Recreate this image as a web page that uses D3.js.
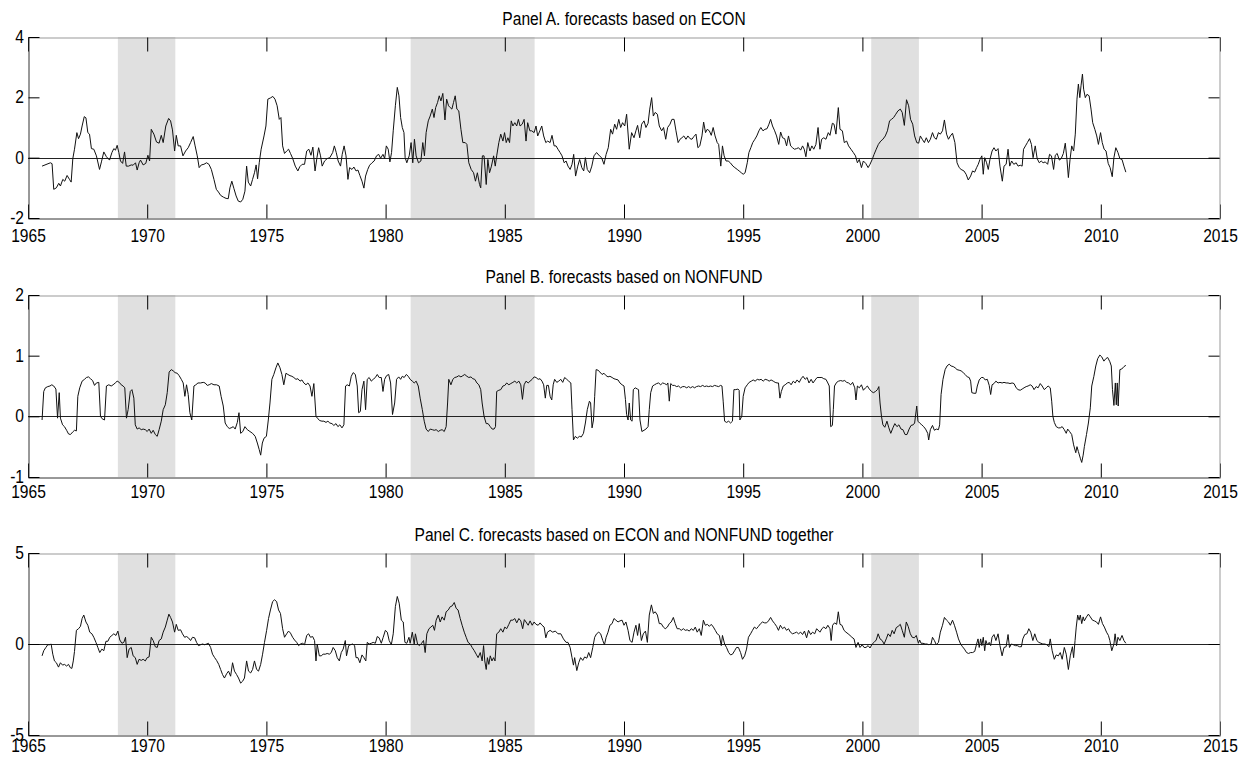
<!DOCTYPE html>
<html>
<head>
<meta charset="utf-8">
<script src="https://cdnjs.cloudflare.com/ajax/libs/d3/7.8.5/d3.min.js"></script>
<style>
body { margin: 0; background: #fff; }
text { font-family: "Liberation Sans", Arial, Helvetica, sans-serif; }
</style>
</head>
<body>
<script>
//shaded periods (start year, end year)
var bands = [[1968.77, 1971.18], [1981.05, 1986.25], [2000.37, 2002.37]];

//x axis ticks
var xTicks = [1965, 1970, 1975, 1980, 1985, 1990, 1995, 2000, 2005, 2010, 2015];

//panel titles and y ticks
var titles = ["Panel A. forecasts based on ECON",
              "Panel B. forecasts based on NONFUND",
              "Panel C. forecasts based on ECON and NONFUND together"];
var yTicksA = [-2, 0, 2, 4];
var yTicksB = [-1, 0, 1, 2];
var yTicksC = [-5, 0, 5];

//Panel A series: [year, forecast]
var econ = [
[1965.59,-0.28],[1965.94,-0.17],[1966.01,-0.2],[1966.08,-1.05],[1966.19,-1.0],[1966.29,-0.85],[1966.36,-0.94],[1966.46,-0.72],
[1966.54,-0.78],[1966.64,-0.59],[1966.74,-0.72],[1966.81,-0.81],[1966.88,-0.03],[1966.95,0.28],[1967.05,0.83],[1967.12,0.63],
[1967.2,0.78],[1967.27,1.05],[1967.36,1.36],[1967.43,1.32],[1967.51,0.83],[1967.58,0.78],[1967.66,0.3],[1967.76,0.28],
[1967.87,0.06],[1968.0,-0.39],[1968.08,-0.14],[1968.18,0.19],[1968.29,0.03],[1968.42,-0.08],[1968.52,0.17],[1968.6,0.3],
[1968.67,0.25],[1968.74,0.41],[1968.81,0.17],[1968.88,-0.11],[1968.97,-0.19],[1969.05,0.19],[1969.12,-0.28],[1969.22,-0.28],
[1969.33,-0.24],[1969.41,-0.25],[1969.51,-0.17],[1969.58,-0.41],[1969.66,-0.17],[1969.72,-0.08],[1969.83,-0.24],[1969.94,-0.19],
[1970.03,0.08],[1970.1,-0.11],[1970.17,0.94],[1970.28,0.78],[1970.39,0.52],[1970.5,0.48],[1970.59,0.74],[1970.67,0.5],
[1970.78,1.05],[1970.9,1.3],[1970.98,1.22],[1971.06,0.92],[1971.15,0.22],[1971.22,0.74],[1971.3,0.39],[1971.4,0.39],
[1971.5,0.06],[1971.61,0.22],[1971.72,0.33],[1971.82,0.5],[1971.93,0.7],[1972.01,0.39],[1972.1,0.06],[1972.18,-0.33],
[1972.27,-0.24],[1972.38,-0.22],[1972.49,-0.17],[1972.59,-0.22],[1972.69,-0.39],[1972.8,-0.72],[1972.9,-1.05],[1972.99,-1.14],
[1973.08,-1.25],[1973.2,-1.31],[1973.31,-1.35],[1973.4,-1.36],[1973.47,-1.0],[1973.55,-0.78],[1973.64,-1.03],[1973.73,-1.27],
[1973.82,-1.44],[1973.92,-1.47],[1974.01,-1.38],[1974.1,-1.11],[1974.17,-0.28],[1974.24,-0.81],[1974.34,-0.94],[1974.42,-0.72],
[1974.5,-0.5],[1974.57,-0.24],[1974.63,-0.7],[1974.7,-0.17],[1974.78,0.28],[1974.9,0.72],[1974.98,1.05],[1975.06,1.94],
[1975.17,1.98],[1975.27,2.03],[1975.36,1.94],[1975.45,1.72],[1975.54,1.27],[1975.61,1.33],[1975.68,0.39],[1975.76,0.14],
[1975.85,0.22],[1975.93,0.28],[1976.01,0.14],[1976.1,-0.02],[1976.21,-0.28],[1976.32,-0.44],[1976.4,-0.3],[1976.5,-0.22],
[1976.6,-0.22],[1976.69,0.22],[1976.78,0.28],[1976.87,0.08],[1976.95,0.35],[1977.04,-0.44],[1977.12,0.0],[1977.19,0.33],
[1977.27,0.06],[1977.34,-0.28],[1977.44,-0.11],[1977.55,-0.03],[1977.66,0.0],[1977.78,0.17],[1977.85,0.39],[1977.93,0.17],
[1978.01,-0.11],[1978.11,-0.28],[1978.18,0.11],[1978.26,0.39],[1978.34,0.06],[1978.42,-0.72],[1978.49,-0.33],[1978.59,-0.39],
[1978.67,-0.31],[1978.76,-0.44],[1978.84,-0.41],[1978.92,-0.59],[1979.01,-0.78],[1979.09,-1.01],[1979.16,-0.61],[1979.25,-0.39],
[1979.33,-0.25],[1979.43,-0.17],[1979.52,-0.11],[1979.62,0.06],[1979.71,0.11],[1979.79,-0.02],[1979.89,0.11],[1979.96,-0.03],
[1980.03,0.39],[1980.11,0.28],[1980.18,-0.14],[1980.25,0.17],[1980.32,0.89],[1980.41,1.72],[1980.49,2.33],[1980.56,2.05],
[1980.63,1.33],[1980.7,1.0],[1980.77,0.83],[1980.82,0.0],[1980.89,-0.17],[1980.99,0.06],[1981.07,0.5],[1981.14,-0.17],
[1981.21,0.61],[1981.28,0.06],[1981.38,-0.17],[1981.48,-0.11],[1981.56,0.5],[1981.63,0.06],[1981.7,0.83],[1981.79,1.22],
[1981.87,1.38],[1981.96,1.61],[1982.03,1.33],[1982.1,1.66],[1982.18,1.83],[1982.25,2.05],[1982.32,1.88],[1982.4,2.13],
[1982.49,1.25],[1982.56,1.94],[1982.64,1.72],[1982.71,1.66],[1982.78,1.61],[1982.85,1.83],[1982.92,2.05],[1982.99,1.61],
[1983.07,1.55],[1983.16,0.94],[1983.24,0.5],[1983.34,0.5],[1983.41,0.44],[1983.49,-0.17],[1983.59,-0.39],[1983.69,-0.5],
[1983.77,-0.78],[1983.85,-0.5],[1983.94,-0.89],[1983.99,-1.0],[1984.06,0.06],[1984.13,0.06],[1984.22,-0.89],[1984.29,-0.06],
[1984.36,-0.5],[1984.44,-0.28],[1984.53,0.06],[1984.6,-0.28],[1984.66,0.06],[1984.75,0.5],[1984.83,0.78],[1984.92,0.55],
[1984.99,0.83],[1985.06,0.5],[1985.13,0.66],[1985.2,0.5],[1985.27,1.22],[1985.34,1.05],[1985.42,1.16],[1985.5,1.05],
[1985.57,1.27],[1985.64,1.05],[1985.73,1.11],[1985.81,1.27],[1985.89,0.55],[1985.96,1.16],[1986.05,0.89],[1986.13,0.89],
[1986.23,0.83],[1986.31,1.05],[1986.38,0.72],[1986.47,0.89],[1986.55,1.05],[1986.63,0.72],[1986.72,0.5],[1986.8,0.55],
[1986.9,0.5],[1986.98,0.74],[1987.07,0.39],[1987.15,0.39],[1987.23,0.28],[1987.32,0.17],[1987.4,0.06],[1987.49,-0.17],
[1987.57,-0.11],[1987.65,-0.28],[1987.74,-0.39],[1987.82,-0.22],[1987.89,0.11],[1987.97,-0.61],[1988.06,-0.28],[1988.14,-0.06],
[1988.23,-0.33],[1988.31,-0.44],[1988.38,0.0],[1988.46,-0.39],[1988.56,-0.5],[1988.65,-0.28],[1988.74,0.06],[1988.85,0.17],
[1988.97,0.06],[1989.06,0.0],[1989.16,-0.22],[1989.25,0.11],[1989.34,0.33],[1989.44,0.94],[1989.52,0.78],[1989.61,1.11],
[1989.69,0.94],[1989.78,1.27],[1989.86,1.0],[1989.94,1.16],[1990.03,1.05],[1990.11,1.44],[1990.22,0.28],[1990.32,0.83],
[1990.42,0.66],[1990.5,0.89],[1990.57,1.07],[1990.66,0.66],[1990.74,1.11],[1990.84,1.22],[1990.92,1.0],[1991.01,1.14],
[1991.08,1.61],[1991.16,1.99],[1991.23,1.38],[1991.31,1.5],[1991.4,1.44],[1991.48,1.05],[1991.58,0.89],[1991.66,1.0],
[1991.75,0.61],[1991.83,1.0],[1991.93,1.11],[1992.01,1.27],[1992.1,1.27],[1992.18,0.89],[1992.27,0.5],[1992.35,0.61],
[1992.43,0.66],[1992.51,0.72],[1992.6,0.61],[1992.68,0.72],[1992.77,0.63],[1992.85,0.61],[1992.93,0.7],[1993.02,0.78],
[1993.1,0.33],[1993.18,0.39],[1993.27,0.72],[1993.34,1.18],[1993.42,0.83],[1993.49,0.94],[1993.58,0.89],[1993.66,0.74],
[1993.74,1.0],[1993.82,0.72],[1993.91,0.5],[1993.97,0.44],[1994.06,-0.28],[1994.13,0.39],[1994.2,0.06],[1994.28,-0.11],
[1994.37,-0.11],[1994.46,-0.17],[1994.57,-0.28],[1994.65,-0.33],[1994.75,-0.39],[1994.83,-0.44],[1994.92,-0.5],[1995.0,-0.55],
[1995.08,-0.5],[1995.17,-0.17],[1995.24,0.17],[1995.32,0.33],[1995.4,0.5],[1995.49,0.61],[1995.57,0.72],[1995.66,0.89],
[1995.74,1.0],[1995.83,0.89],[1995.91,0.94],[1996.0,0.96],[1996.08,1.11],[1996.15,1.27],[1996.23,1.05],[1996.32,0.89],
[1996.4,0.72],[1996.49,0.44],[1996.57,0.85],[1996.65,0.66],[1996.74,0.63],[1996.82,0.39],[1996.9,0.72],[1996.99,0.39],
[1997.07,0.33],[1997.15,0.28],[1997.24,0.3],[1997.32,0.33],[1997.41,0.25],[1997.49,0.39],[1997.56,0.28],[1997.63,0.03],
[1997.71,0.5],[1997.8,0.22],[1997.88,0.39],[1997.96,0.28],[1998.05,0.44],[1998.14,1.0],[1998.22,0.28],[1998.29,0.61],
[1998.38,0.66],[1998.47,0.61],[1998.57,0.83],[1998.64,0.74],[1998.74,1.14],[1998.81,1.11],[1998.89,0.78],[1998.99,1.66],
[1999.06,0.94],[1999.16,0.89],[1999.24,0.5],[1999.34,0.55],[1999.42,0.39],[1999.52,0.28],[1999.62,0.17],[1999.71,0.06],
[1999.79,-0.17],[1999.87,-0.06],[1999.96,-0.33],[2000.04,-0.11],[2000.14,-0.19],[2000.24,-0.33],[2000.32,-0.22],[2000.41,-0.06],
[2000.49,0.11],[2000.58,0.28],[2000.67,0.44],[2000.77,0.55],[2000.86,0.61],[2000.96,0.72],[2001.05,0.89],[2001.14,1.22],
[2001.22,1.27],[2001.31,1.33],[2001.4,1.44],[2001.49,1.55],[2001.59,1.61],[2001.67,1.5],[2001.76,1.07],[2001.85,1.92],
[2001.94,1.72],[2002.02,1.27],[2002.11,1.11],[2002.19,0.72],[2002.28,0.5],[2002.36,0.48],[2002.43,0.72],[2002.51,0.61],
[2002.6,0.5],[2002.68,0.66],[2002.77,0.5],[2002.85,0.61],[2002.94,0.83],[2003.02,0.66],[2003.1,0.61],[2003.19,0.83],
[2003.27,0.78],[2003.36,0.89],[2003.44,1.25],[2003.53,0.78],[2003.61,0.61],[2003.69,0.72],[2003.78,0.81],[2003.88,0.5],
[2003.97,-0.17],[2004.06,-0.33],[2004.14,-0.39],[2004.26,-0.44],[2004.35,-0.55],[2004.44,-0.74],[2004.54,-0.61],[2004.62,-0.44],
[2004.71,-0.48],[2004.79,-0.33],[2004.86,-0.22],[2004.93,-0.06],[2005.01,0.06],[2005.07,-0.55],[2005.13,0.0],[2005.21,-0.17],
[2005.28,-0.39],[2005.35,-0.06],[2005.44,0.22],[2005.52,0.33],[2005.6,0.22],[2005.69,0.3],[2005.77,-0.28],[2005.87,-0.78],
[2005.94,-0.28],[2006.03,-0.22],[2006.11,0.28],[2006.18,-0.28],[2006.26,-0.11],[2006.35,-0.22],[2006.45,-0.17],[2006.53,-0.28],
[2006.62,-0.25],[2006.7,-0.28],[2006.76,0.28],[2006.84,0.39],[2006.92,0.5],[2007.01,0.63],[2007.09,0.44],[2007.16,0.0],
[2007.25,0.39],[2007.33,-0.03],[2007.42,-0.17],[2007.5,-0.11],[2007.58,-0.17],[2007.67,-0.14],[2007.77,-0.22],[2007.85,0.11],
[2007.93,0.06],[2008.02,-0.39],[2008.09,0.08],[2008.17,0.14],[2008.26,-0.08],[2008.34,-0.03],[2008.43,0.14],[2008.51,0.48],
[2008.58,-0.06],[2008.64,-0.66],[2008.71,-0.06],[2008.78,0.39],[2008.86,0.22],[2008.93,0.78],[2009.0,1.94],[2009.06,2.44],
[2009.12,1.99],[2009.17,2.38],[2009.23,2.77],[2009.28,2.27],[2009.35,1.99],[2009.42,2.1],[2009.51,2.05],[2009.59,1.61],
[2009.66,1.16],[2009.75,0.94],[2009.83,0.72],[2009.9,0.44],[2009.99,0.83],[2010.06,0.5],[2010.14,0.28],[2010.22,0.22],
[2010.31,-0.19],[2010.39,-0.33],[2010.48,-0.63],[2010.55,0.0],[2010.63,0.33],[2010.72,0.17],[2010.8,-0.03],[2010.89,-0.06],
[2010.97,-0.28],[2011.05,-0.48]
];

//Panel B series: [year, forecast]
var nonfund = [
[1965.59,-0.06],[1965.66,0.41],[1965.73,0.47],[1965.83,0.49],[1965.92,0.5],[1966.0,0.52],[1966.08,0.5],[1966.17,0.45],
[1966.24,-0.03],[1966.31,0.39],[1966.36,-0.03],[1966.45,-0.14],[1966.53,-0.17],[1966.62,-0.23],[1966.7,-0.29],[1966.78,-0.3],
[1966.87,-0.26],[1966.95,-0.23],[1967.03,-0.24],[1967.09,0.33],[1967.17,0.47],[1967.27,0.58],[1967.37,0.61],[1967.45,0.64],
[1967.54,0.65],[1967.62,0.62],[1967.71,0.59],[1967.79,0.51],[1967.87,0.55],[1967.97,0.56],[1968.04,0.0],[1968.11,-0.04],
[1968.21,-0.06],[1968.29,0.5],[1968.39,0.52],[1968.49,0.5],[1968.57,0.52],[1968.66,0.55],[1968.74,0.58],[1968.83,0.56],
[1968.91,0.52],[1968.99,0.5],[1969.06,0.47],[1969.13,-0.03],[1969.2,0.11],[1969.29,0.41],[1969.36,0.44],[1969.44,0.3],
[1969.5,-0.14],[1969.58,-0.21],[1969.66,-0.19],[1969.75,-0.22],[1969.83,-0.21],[1969.92,-0.22],[1970.0,-0.25],[1970.08,-0.21],
[1970.17,-0.28],[1970.25,-0.23],[1970.34,-0.3],[1970.42,-0.33],[1970.5,-0.22],[1970.59,-0.08],[1970.67,0.11],[1970.76,0.19],
[1970.84,0.39],[1970.92,0.73],[1971.01,0.77],[1971.09,0.75],[1971.17,0.72],[1971.26,0.71],[1971.34,0.67],[1971.43,0.61],
[1971.51,0.55],[1971.58,0.33],[1971.65,0.52],[1971.72,0.36],[1971.79,0.06],[1971.87,-0.06],[1971.96,0.5],[1972.04,0.52],
[1972.13,0.55],[1972.24,0.55],[1972.35,0.56],[1972.43,0.55],[1972.52,0.51],[1972.6,0.52],[1972.69,0.54],[1972.8,0.52],
[1972.91,0.52],[1973.02,0.5],[1973.1,0.33],[1973.19,0.17],[1973.27,-0.11],[1973.36,-0.17],[1973.44,-0.2],[1973.52,-0.19],
[1973.61,-0.17],[1973.69,-0.21],[1973.78,-0.1],[1973.85,0.06],[1973.92,-0.28],[1974.01,-0.25],[1974.1,-0.17],[1974.2,-0.22],
[1974.31,-0.25],[1974.42,-0.28],[1974.53,-0.33],[1974.62,-0.44],[1974.7,-0.55],[1974.76,-0.64],[1974.83,-0.44],[1974.9,-0.36],
[1975.0,-0.33],[1975.08,-0.06],[1975.15,0.22],[1975.23,0.61],[1975.31,0.69],[1975.4,0.8],[1975.48,0.88],[1975.57,0.8],
[1975.65,0.69],[1975.73,0.52],[1975.82,0.71],[1975.9,0.69],[1975.99,0.67],[1976.07,0.66],[1976.15,0.64],[1976.24,0.61],
[1976.32,0.62],[1976.41,0.58],[1976.49,0.6],[1976.57,0.55],[1976.66,0.52],[1976.74,0.55],[1976.83,0.5],[1976.91,0.33],
[1976.99,0.54],[1977.08,0.0],[1977.16,-0.04],[1977.24,-0.07],[1977.33,-0.08],[1977.41,-0.08],[1977.5,-0.1],[1977.58,-0.08],
[1977.66,-0.11],[1977.75,-0.12],[1977.83,-0.15],[1977.92,-0.12],[1978.0,-0.17],[1978.08,-0.14],[1978.17,-0.19],[1978.25,-0.14],
[1978.32,0.5],[1978.39,0.52],[1978.48,0.5],[1978.56,0.66],[1978.64,0.72],[1978.73,0.69],[1978.81,0.5],[1978.87,0.06],
[1978.94,0.08],[1979.01,0.44],[1979.09,0.58],[1979.16,0.11],[1979.23,0.61],[1979.31,0.64],[1979.4,0.58],[1979.48,0.61],
[1979.57,0.64],[1979.65,0.69],[1979.73,0.64],[1979.82,0.64],[1979.89,0.41],[1979.96,0.61],[1980.04,0.67],[1980.13,0.69],
[1980.21,0.55],[1980.29,0.03],[1980.38,0.22],[1980.46,0.61],[1980.55,0.65],[1980.63,0.61],[1980.7,0.66],[1980.78,0.64],
[1980.87,0.69],[1980.95,0.66],[1981.03,0.61],[1981.12,0.58],[1981.2,0.55],[1981.28,0.58],[1981.37,0.5],[1981.45,0.3],
[1981.54,0.11],[1981.62,-0.08],[1981.7,-0.21],[1981.79,-0.25],[1981.87,-0.21],[1981.96,-0.22],[1982.04,-0.23],[1982.12,-0.22],
[1982.21,-0.25],[1982.29,-0.23],[1982.37,-0.22],[1982.46,-0.25],[1982.54,-0.17],[1982.6,0.22],[1982.65,0.61],[1982.74,0.52],
[1982.82,0.61],[1982.9,0.64],[1982.99,0.65],[1983.07,0.67],[1983.16,0.65],[1983.24,0.67],[1983.32,0.69],[1983.41,0.66],
[1983.49,0.64],[1983.58,0.65],[1983.66,0.62],[1983.74,0.61],[1983.83,0.55],[1983.91,0.52],[1983.99,0.44],[1984.05,0.22],
[1984.13,0.0],[1984.22,-0.12],[1984.3,-0.12],[1984.39,-0.17],[1984.47,-0.21],[1984.55,-0.21],[1984.61,-0.17],[1984.66,0.41],
[1984.75,0.43],[1984.83,0.44],[1984.92,0.5],[1985.0,0.51],[1985.08,0.55],[1985.17,0.52],[1985.25,0.54],[1985.34,0.56],
[1985.42,0.58],[1985.5,0.55],[1985.59,0.58],[1985.67,0.52],[1985.74,0.28],[1985.81,0.52],[1985.89,0.58],[1985.98,0.55],
[1986.06,0.58],[1986.15,0.61],[1986.23,0.65],[1986.31,0.64],[1986.4,0.61],[1986.48,0.62],[1986.56,0.58],[1986.63,0.52],
[1986.7,0.3],[1986.76,0.51],[1986.83,0.51],[1986.9,0.33],[1986.97,0.27],[1987.03,0.52],[1987.09,0.61],[1987.18,0.56],
[1987.26,0.58],[1987.35,0.61],[1987.43,0.56],[1987.51,0.64],[1987.6,0.61],[1987.68,0.58],[1987.77,0.55],[1987.82,0.11],
[1987.88,-0.39],[1987.96,-0.33],[1988.04,-0.36],[1988.13,-0.33],[1988.21,-0.34],[1988.3,-0.28],[1988.38,-0.11],[1988.46,0.11],
[1988.55,0.25],[1988.6,0.22],[1988.66,-0.19],[1988.72,-0.06],[1988.77,0.33],[1988.83,0.77],[1988.91,0.76],[1988.99,0.73],
[1989.08,0.69],[1989.16,0.71],[1989.25,0.67],[1989.33,0.65],[1989.41,0.66],[1989.5,0.64],[1989.58,0.62],[1989.66,0.61],
[1989.75,0.6],[1989.83,0.55],[1989.92,0.52],[1990.0,0.5],[1990.06,0.28],[1990.11,0.03],[1990.17,-0.06],[1990.22,0.22],
[1990.28,-0.06],[1990.34,-0.08],[1990.39,0.44],[1990.47,0.47],[1990.56,0.45],[1990.61,0.44],[1990.67,-0.06],[1990.75,-0.25],
[1990.84,-0.23],[1990.92,-0.21],[1991.01,-0.17],[1991.06,0.11],[1991.12,0.39],[1991.2,0.5],[1991.28,0.52],[1991.37,0.54],
[1991.45,0.55],[1991.54,0.52],[1991.62,0.55],[1991.7,0.54],[1991.79,0.52],[1991.84,0.55],[1991.9,0.25],[1991.96,0.54],
[1992.04,0.51],[1992.12,0.51],[1992.21,0.49],[1992.29,0.5],[1992.37,0.47],[1992.46,0.49],[1992.54,0.49],[1992.63,0.47],
[1992.71,0.49],[1992.79,0.47],[1992.88,0.49],[1992.96,0.47],[1993.04,0.49],[1993.13,0.5],[1993.21,0.49],[1993.3,0.51],
[1993.38,0.49],[1993.46,0.5],[1993.55,0.49],[1993.63,0.5],[1993.71,0.49],[1993.8,0.51],[1993.88,0.5],[1993.97,0.49],
[1994.05,0.51],[1994.11,0.5],[1994.16,0.25],[1994.22,-0.08],[1994.3,-0.1],[1994.39,-0.08],[1994.47,-0.11],[1994.55,-0.08],
[1994.61,0.44],[1994.69,0.44],[1994.78,0.45],[1994.83,0.43],[1994.86,-0.06],[1994.94,0.0],[1995.0,0.33],[1995.08,0.47],
[1995.17,0.52],[1995.25,0.56],[1995.34,0.58],[1995.42,0.6],[1995.5,0.58],[1995.59,0.61],[1995.67,0.6],[1995.75,0.61],
[1995.84,0.58],[1995.92,0.61],[1996.01,0.6],[1996.09,0.58],[1996.17,0.6],[1996.26,0.58],[1996.34,0.56],[1996.42,0.55],
[1996.48,0.55],[1996.54,0.3],[1996.6,0.41],[1996.68,0.5],[1996.76,0.52],[1996.85,0.55],[1996.93,0.56],[1997.01,0.52],
[1997.1,0.58],[1997.18,0.55],[1997.26,0.6],[1997.35,0.56],[1997.43,0.62],[1997.51,0.66],[1997.6,0.61],[1997.68,0.64],
[1997.76,0.55],[1997.85,0.61],[1997.93,0.55],[1998.02,0.6],[1998.1,0.64],[1998.22,0.64],[1998.3,0.64],[1998.38,0.62],
[1998.47,0.61],[1998.55,0.55],[1998.61,0.5],[1998.67,-0.17],[1998.74,-0.15],[1998.78,0.11],[1998.83,0.5],[1998.92,0.56],
[1999.0,0.58],[1999.09,0.59],[1999.17,0.58],[1999.26,0.59],[1999.34,0.56],[1999.42,0.55],[1999.51,0.52],[1999.59,0.56],
[1999.68,0.47],[1999.73,0.27],[1999.79,0.5],[1999.87,0.47],[1999.96,0.52],[2000.04,0.43],[2000.13,0.47],[2000.21,0.5],
[2000.29,0.45],[2000.38,0.41],[2000.46,0.39],[2000.55,0.41],[2000.63,0.44],[2000.69,0.49],[2000.74,0.22],[2000.8,0.0],
[2000.86,-0.14],[2000.94,-0.18],[2001.03,-0.08],[2001.11,-0.19],[2001.19,-0.28],[2001.28,-0.19],[2001.36,-0.12],[2001.45,-0.17],
[2001.53,-0.14],[2001.62,-0.21],[2001.7,-0.22],[2001.79,-0.3],[2001.87,-0.3],[2001.96,-0.21],[2002.04,-0.15],[2002.13,-0.14],
[2002.19,-0.11],[2002.28,0.17],[2002.33,-0.08],[2002.4,-0.11],[2002.49,-0.14],[2002.57,-0.17],[2002.65,-0.21],[2002.74,-0.28],
[2002.78,-0.39],[2002.85,-0.22],[2002.94,-0.15],[2003.02,-0.23],[2003.1,-0.21],[2003.19,-0.22],[2003.24,-0.14],[2003.3,0.36],
[2003.38,0.61],[2003.47,0.77],[2003.55,0.83],[2003.64,0.86],[2003.72,0.83],[2003.81,0.82],[2003.89,0.8],[2003.97,0.77],
[2004.06,0.76],[2004.14,0.75],[2004.23,0.72],[2004.31,0.69],[2004.4,0.65],[2004.48,0.64],[2004.54,0.58],[2004.59,0.39],
[2004.68,0.38],[2004.76,0.38],[2004.82,0.5],[2004.9,0.6],[2004.99,0.64],[2005.07,0.64],[2005.15,0.6],[2005.24,0.61],
[2005.32,0.51],[2005.38,0.36],[2005.44,0.52],[2005.52,0.54],[2005.6,0.58],[2005.69,0.55],[2005.77,0.56],[2005.86,0.55],
[2005.94,0.56],[2006.03,0.55],[2006.11,0.55],[2006.19,0.54],[2006.28,0.55],[2006.36,0.54],[2006.45,0.47],[2006.53,0.44],
[2006.62,0.43],[2006.7,0.45],[2006.78,0.47],[2006.87,0.49],[2006.95,0.5],[2007.04,0.52],[2007.12,0.5],[2007.2,0.44],
[2007.29,0.49],[2007.37,0.47],[2007.46,0.54],[2007.54,0.5],[2007.63,0.44],[2007.71,0.47],[2007.79,0.5],[2007.88,0.47],
[2007.94,0.25],[2007.99,0.0],[2008.05,-0.1],[2008.13,-0.17],[2008.22,-0.19],[2008.3,-0.19],[2008.38,-0.17],[2008.47,-0.22],
[2008.55,-0.28],[2008.61,-0.21],[2008.69,-0.25],[2008.78,-0.3],[2008.86,-0.47],[2008.95,-0.6],[2009.0,-0.5],[2009.06,-0.58],
[2009.14,-0.69],[2009.2,-0.76],[2009.26,-0.64],[2009.31,-0.5],[2009.4,-0.3],[2009.48,-0.11],[2009.56,0.14],[2009.62,0.5],
[2009.71,0.66],[2009.79,0.83],[2009.87,0.95],[2009.96,1.01],[2010.04,0.98],[2010.13,0.91],[2010.21,0.95],[2010.29,0.97],
[2010.38,0.9],[2010.44,0.83],[2010.49,0.44],[2010.55,0.18],[2010.61,0.55],[2010.65,0.19],[2010.69,0.55],[2010.73,0.17],
[2010.8,0.77],[2010.88,0.78],[2010.97,0.82],[2011.05,0.84]
];

//Panel C series: [year, forecast]
var both = [
[1965.59,-0.65],[1965.66,-0.37],[1965.75,-0.19],[1965.83,-0.04],[1965.92,-0.04],[1965.97,0.0],[1966.04,-0.56],[1966.11,-0.93],
[1966.19,-1.03],[1966.28,-1.27],[1966.36,-1.03],[1966.45,-1.16],[1966.53,-1.12],[1966.62,-1.21],[1966.7,-1.12],[1966.78,-1.31],
[1966.84,-1.34],[1966.9,-0.93],[1966.95,-0.41],[1967.03,0.75],[1967.12,0.84],[1967.2,0.97],[1967.27,1.4],[1967.34,1.59],
[1967.43,1.21],[1967.51,1.03],[1967.59,0.65],[1967.68,0.56],[1967.76,0.37],[1967.85,0.09],[1967.93,-0.19],[1968.01,-0.47],
[1968.1,-0.28],[1968.18,-0.37],[1968.27,0.15],[1968.35,0.15],[1968.43,0.37],[1968.52,0.47],[1968.6,0.56],[1968.69,0.47],
[1968.77,0.71],[1968.85,0.22],[1968.94,0.04],[1969.02,0.09],[1969.09,0.37],[1969.16,-0.75],[1969.24,-0.28],[1969.33,-0.19],
[1969.41,-0.65],[1969.5,-0.75],[1969.58,-1.12],[1969.66,-0.84],[1969.75,-0.9],[1969.83,-0.84],[1969.92,-0.93],[1970.0,-0.75],
[1970.08,-0.71],[1970.17,0.37],[1970.25,0.19],[1970.34,-0.15],[1970.42,-0.19],[1970.5,0.19],[1970.59,0.28],[1970.67,0.65],
[1970.76,0.93],[1970.84,1.31],[1970.91,1.64],[1970.98,1.46],[1971.06,1.21],[1971.15,0.65],[1971.22,1.08],[1971.3,0.75],
[1971.4,0.78],[1971.48,0.56],[1971.57,0.37],[1971.65,0.41],[1971.73,0.34],[1971.82,0.19],[1971.9,0.37],[1971.99,0.34],
[1972.07,0.09],[1972.15,-0.09],[1972.24,-0.04],[1972.32,0.0],[1972.41,-0.04],[1972.49,0.0],[1972.57,0.04],[1972.66,-0.19],
[1972.74,-0.56],[1972.83,-0.75],[1972.91,-0.9],[1973.0,-1.12],[1973.08,-1.4],[1973.16,-1.68],[1973.24,-1.87],[1973.33,-1.64],
[1973.41,-1.49],[1973.5,-1.77],[1973.58,-1.03],[1973.66,-1.49],[1973.75,-1.68],[1973.83,-1.87],[1973.92,-2.15],[1974.0,-2.05],
[1974.08,-1.87],[1974.17,-0.93],[1974.25,-1.49],[1974.34,-1.59],[1974.42,-1.4],[1974.5,-0.93],[1974.59,-1.4],[1974.67,-1.49],
[1974.76,-1.12],[1974.84,-0.56],[1974.92,0.09],[1975.01,0.75],[1975.09,1.4],[1975.17,1.87],[1975.26,2.33],[1975.34,2.43],
[1975.43,2.33],[1975.51,1.87],[1975.59,1.68],[1975.68,0.84],[1975.76,0.37],[1975.85,0.56],[1975.93,0.71],[1976.01,0.6],
[1976.1,0.37],[1976.18,0.22],[1976.27,0.09],[1976.35,-0.09],[1976.43,0.0],[1976.52,0.04],[1976.6,-0.04],[1976.69,0.47],
[1976.77,0.56],[1976.85,0.37],[1976.94,0.41],[1977.02,0.19],[1977.08,-0.93],[1977.13,0.0],[1977.22,-0.65],[1977.3,-0.65],
[1977.38,-0.56],[1977.47,-0.56],[1977.55,-0.52],[1977.64,-0.56],[1977.72,-0.47],[1977.8,-0.19],[1977.89,-0.37],[1977.97,-0.75],
[1978.06,-0.93],[1978.14,-0.47],[1978.22,-0.28],[1978.31,0.19],[1978.36,-0.65],[1978.45,-0.09],[1978.53,-0.04],[1978.62,0.0],
[1978.7,-0.09],[1978.76,-0.75],[1978.84,-0.75],[1978.92,-1.03],[1979.01,-0.6],[1979.09,-0.75],[1979.17,-0.93],[1979.23,0.09],
[1979.31,0.0],[1979.4,0.04],[1979.48,0.09],[1979.57,0.04],[1979.65,0.41],[1979.73,0.34],[1979.82,0.04],[1979.9,0.37],
[1979.99,0.75],[1980.07,0.65],[1980.15,0.19],[1980.24,-0.04],[1980.32,0.56],[1980.41,2.05],[1980.49,2.61],[1980.57,2.24],
[1980.66,1.31],[1980.74,1.21],[1980.81,0.09],[1980.89,0.04],[1980.98,0.37],[1981.03,0.04],[1981.12,0.65],[1981.2,0.0],
[1981.25,0.56],[1981.34,0.0],[1981.42,-0.09],[1981.51,0.04],[1981.59,0.19],[1981.66,-0.47],[1981.73,0.56],[1981.82,0.84],
[1981.9,0.93],[1981.98,1.03],[1982.05,0.75],[1982.12,1.31],[1982.21,1.59],[1982.29,1.21],[1982.37,1.49],[1982.46,1.31],
[1982.54,1.77],[1982.63,1.87],[1982.71,2.05],[1982.79,2.09],[1982.88,2.28],[1982.96,1.96],[1983.04,1.87],[1983.13,1.4],
[1983.21,1.03],[1983.3,0.65],[1983.38,0.37],[1983.46,0.09],[1983.55,0.0],[1983.63,-0.19],[1983.72,-0.37],[1983.8,-0.56],
[1983.88,-0.75],[1983.97,-0.47],[1984.05,-0.93],[1984.11,-0.09],[1984.16,-0.93],[1984.22,-1.4],[1984.27,-0.75],[1984.33,-1.12],
[1984.39,-0.65],[1984.46,-0.93],[1984.53,-0.75],[1984.59,-0.93],[1984.66,0.56],[1984.75,0.65],[1984.83,0.84],[1984.92,0.65],
[1985.0,0.93],[1985.08,0.84],[1985.17,1.08],[1985.25,1.31],[1985.34,1.31],[1985.42,1.4],[1985.5,1.16],[1985.59,1.4],
[1985.67,1.27],[1985.75,0.84],[1985.82,1.34],[1985.89,1.21],[1985.98,1.03],[1986.06,1.27],[1986.15,1.03],[1986.23,1.21],
[1986.31,1.08],[1986.4,1.03],[1986.48,1.16],[1986.56,1.03],[1986.65,0.93],[1986.72,0.34],[1986.79,0.65],[1986.9,0.75],
[1987.01,0.65],[1987.12,0.71],[1987.23,0.56],[1987.35,0.56],[1987.46,0.28],[1987.57,0.09],[1987.65,0.09],[1987.74,-0.19],
[1987.82,-0.75],[1987.88,-1.16],[1987.93,-0.75],[1988.02,-1.46],[1988.1,-1.03],[1988.18,-0.75],[1988.27,-0.9],[1988.35,-0.71],
[1988.44,-0.78],[1988.52,-0.47],[1988.6,-0.75],[1988.69,-0.19],[1988.77,0.37],[1988.85,0.56],[1988.94,0.65],[1989.02,0.56],
[1989.11,0.19],[1989.18,-0.04],[1989.25,0.37],[1989.33,0.65],[1989.41,1.03],[1989.5,1.12],[1989.58,1.4],[1989.66,1.31],
[1989.75,1.21],[1989.83,1.27],[1989.92,1.31],[1990.0,1.03],[1990.08,1.21],[1990.17,0.75],[1990.25,0.19],[1990.34,0.09],
[1990.42,0.65],[1990.5,1.03],[1990.57,0.47],[1990.64,1.12],[1990.73,0.19],[1990.81,0.56],[1990.9,0.71],[1990.98,0.09],
[1991.06,1.59],[1991.15,2.15],[1991.23,1.68],[1991.31,1.77],[1991.4,1.59],[1991.48,1.12],[1991.56,1.12],[1991.65,0.93],
[1991.73,0.84],[1991.82,0.93],[1991.9,1.12],[1991.98,1.21],[1992.07,1.46],[1992.15,1.12],[1992.23,0.84],[1992.32,0.84],
[1992.4,0.75],[1992.49,0.84],[1992.57,0.75],[1992.65,0.78],[1992.74,0.71],[1992.82,0.84],[1992.91,0.75],[1992.99,0.93],
[1993.07,0.65],[1993.16,0.84],[1993.24,0.47],[1993.33,1.31],[1993.41,1.03],[1993.5,1.08],[1993.58,0.97],[1993.66,1.08],
[1993.75,0.93],[1993.83,0.75],[1993.91,0.56],[1994.0,0.47],[1994.08,-0.09],[1994.13,0.47],[1994.22,0.0],[1994.3,-0.19],
[1994.39,-0.47],[1994.47,-0.6],[1994.55,-0.56],[1994.64,-0.37],[1994.72,-0.19],[1994.8,-0.19],[1994.89,-0.47],[1994.97,-0.84],
[1995.06,-0.65],[1995.14,-0.28],[1995.22,0.37],[1995.31,0.56],[1995.39,0.75],[1995.47,0.93],[1995.56,0.84],[1995.64,0.97],
[1995.73,1.12],[1995.81,1.21],[1995.9,1.16],[1995.98,1.16],[1996.06,1.27],[1996.15,1.46],[1996.23,1.27],[1996.32,1.12],
[1996.4,0.97],[1996.48,0.75],[1996.56,1.03],[1996.65,0.84],[1996.73,0.93],[1996.82,0.75],[1996.9,0.84],[1996.98,0.65],
[1997.07,0.56],[1997.15,0.6],[1997.24,0.65],[1997.32,0.56],[1997.41,0.65],[1997.49,0.52],[1997.57,0.71],[1997.66,0.34],
[1997.74,0.75],[1997.83,0.52],[1997.91,0.65],[1998.0,0.56],[1998.08,0.84],[1998.22,0.65],[1998.3,0.84],[1998.38,0.93],
[1998.47,0.84],[1998.55,1.03],[1998.64,0.84],[1998.69,0.19],[1998.75,1.03],[1998.83,1.16],[1998.92,1.08],[1998.99,1.77],
[1999.06,1.08],[1999.14,1.03],[1999.23,0.75],[1999.31,0.65],[1999.4,0.56],[1999.48,0.47],[1999.56,0.37],[1999.65,0.28],
[1999.73,-0.19],[1999.82,0.09],[1999.9,-0.19],[1999.99,-0.04],[2000.07,-0.19],[2000.15,-0.19],[2000.24,-0.09],[2000.32,-0.22],
[2000.41,0.0],[2000.49,0.09],[2000.58,0.22],[2000.66,0.56],[2000.74,0.28],[2000.83,0.19],[2000.91,0.0],[2001.0,0.28],
[2001.08,0.56],[2001.17,0.41],[2001.25,0.75],[2001.33,0.56],[2001.42,0.9],[2001.5,0.97],[2001.59,1.08],[2001.67,0.75],
[2001.76,0.37],[2001.84,1.21],[2001.92,0.97],[2002.01,0.56],[2002.09,0.37],[2002.18,0.34],[2002.26,0.47],[2002.35,0.04],
[2002.4,0.22],[2002.46,0.04],[2002.54,0.04],[2002.63,0.0],[2002.71,0.0],[2002.79,-0.04],[2002.88,0.0],[2002.94,0.37],
[2003.02,0.19],[2003.1,-0.04],[2003.19,0.09],[2003.27,0.65],[2003.36,1.03],[2003.44,1.46],[2003.53,1.31],[2003.61,1.21],
[2003.69,1.03],[2003.78,1.31],[2003.86,1.03],[2003.95,0.65],[2004.03,0.28],[2004.12,0.0],[2004.2,-0.15],[2004.28,-0.28],
[2004.37,-0.47],[2004.45,-0.52],[2004.54,-0.47],[2004.62,-0.47],[2004.71,-0.41],[2004.79,0.0],[2004.85,0.28],[2004.9,-0.19],
[2004.96,0.28],[2005.01,-0.09],[2005.07,0.37],[2005.13,-0.37],[2005.18,0.19],[2005.24,-0.04],[2005.32,0.09],[2005.38,-0.09],
[2005.44,0.37],[2005.52,0.52],[2005.6,0.19],[2005.69,0.56],[2005.77,-0.09],[2005.86,-0.65],[2005.94,-0.19],[2006.03,-0.15],
[2006.11,0.52],[2006.17,-0.19],[2006.25,0.0],[2006.33,-0.04],[2006.42,-0.09],[2006.5,-0.09],[2006.59,-0.15],[2006.67,-0.15],
[2006.73,0.28],[2006.81,0.52],[2006.9,0.56],[2006.98,0.84],[2007.06,0.65],[2007.15,0.19],[2007.23,0.56],[2007.32,0.19],
[2007.4,0.09],[2007.49,0.04],[2007.57,0.0],[2007.65,0.0],[2007.74,-0.04],[2007.82,-0.15],[2007.88,0.28],[2007.96,-0.37],
[2008.05,-0.84],[2008.13,-0.6],[2008.22,-0.65],[2008.3,-0.47],[2008.38,-0.84],[2008.47,-0.19],[2008.55,-0.56],[2008.64,-1.4],
[2008.72,-0.65],[2008.81,-0.15],[2008.86,-0.75],[2008.92,0.19],[2008.97,0.93],[2009.03,1.59],[2009.09,1.31],[2009.14,1.59],
[2009.2,1.12],[2009.26,1.49],[2009.31,1.27],[2009.4,1.49],[2009.48,1.64],[2009.56,1.49],[2009.65,1.31],[2009.73,1.27],
[2009.82,1.21],[2009.9,1.08],[2009.99,1.49],[2010.07,1.12],[2010.15,0.93],[2010.24,0.65],[2010.32,0.47],[2010.38,0.19],
[2010.46,-0.37],[2010.55,0.0],[2010.6,0.56],[2010.66,-0.09],[2010.72,0.37],[2010.8,0.19],[2010.89,0.47],[2010.97,0.19],
[2011.05,0.04]
];

var w = 1248, h = 761;

var svg = d3.select("body").append("svg")
    .attr("width", w)
    .attr("height", h)
    .style("display", "block");

var x = d3.scaleLinear().domain([1965, 2015]).range([28, 1220]);

//panel layout: vertical position, y range and x label gap of each panel
var panels = [
    {title: titles[0], data: econ,    ticks: yTicksA, top: 37,  bottom: 218, pad: 11},
    {title: titles[1], data: nonfund, ticks: yTicksB, top: 295, bottom: 477, pad: 8},
    {title: titles[2], data: both,    ticks: yTicksC, top: 553, bottom: 735, pad: 4.5}
];

//text in the source is narrower than Liberation Sans, squeeze it a bit
function squeeze(sel){
    sel.each(function(){
        var len = this.getComputedTextLength();
        this.setAttribute("textLength", len * 0.89);
        this.setAttribute("lengthAdjust", "spacingAndGlyphs");
    });
}

panels.forEach(function(p){
    var ext = d3.extent(p.ticks);
    var y = d3.scaleLinear().domain(ext).range([p.bottom, p.top]);
    var g = svg.append("g");

    //shaded periods
    g.selectAll("rect.band")
        .data(bands)
        .enter()
        .append("rect")
        .attr("class", "band")
        .attr("x", function(d){ return x(d[0]); })
        .attr("width", function(d){ return x(d[1]) - x(d[0]); })
        .attr("y", p.top)
        .attr("height", p.bottom - p.top)
        .style("fill", "#e0e0e0");

    //zero line
    g.append("line")
        .attr("x1", x(1965))
        .attr("x2", x(2015))
        .attr("y1", Math.round(y(0)) + 0.5)
        .attr("y2", Math.round(y(0)) + 0.5)
        .style("stroke", "#222")
        .style("stroke-width", 1);

    //forecast series
    var line = d3.line()
        .x(function(d){ return x(d[0]); })
        .y(function(d){ return y(d[1]); });
    g.append("path")
        .datum(p.data)
        .attr("d", line)
        .style("fill", "none")
        .style("stroke", "#111")
        .style("stroke-width", 1);

    //axes, ticks pointing inward like the source
    var fmt = function(d){ return String(d); };
    var bottomAxis = g.append("g")
        .attr("transform", "translate(0," + (p.bottom + 0.5) + ")")
        .call(d3.axisBottom(x).tickValues(xTicks).tickFormat(fmt)
            .tickSizeInner(-14).tickSizeOuter(0).tickPadding(p.pad));
    var topAxis = g.append("g")
        .attr("transform", "translate(0," + (p.top + 0.5) + ")")
        .call(d3.axisTop(x).tickValues(xTicks).tickFormat("")
            .tickSizeInner(-14).tickSizeOuter(0));
    var leftAxis = g.append("g")
        .attr("transform", "translate(" + (x(1965) + 0.5) + ",0)")
        .call(d3.axisLeft(y).tickValues(p.ticks).tickFormat(fmt)
            .tickSizeInner(-11).tickSizeOuter(0).tickPadding(4.5));
    var rightAxis = g.append("g")
        .attr("transform", "translate(" + (x(2015) - 0.5) + ",0)")
        .call(d3.axisRight(y).tickValues(p.ticks).tickFormat("")
            .tickSizeInner(-11).tickSizeOuter(0));

    [bottomAxis, leftAxis].forEach(function(a){
        a.select(".domain").style("stroke", "#333");
    });
    [topAxis, rightAxis].forEach(function(a){
        a.select(".domain").style("stroke", "#999");
    });
    g.selectAll(".tick line").style("stroke", "#000");
    g.selectAll(".tick text")
        .style("font-size", "17.5px")
        .style("fill", "#000")
        .call(squeeze);

    //panel title
    g.append("text")
        .attr("x", (x(1965) + x(2015)) / 2)
        .attr("y", p.top - 12.5)
        .attr("text-anchor", "middle")
        .style("font-size", "17.5px")
        .style("fill", "#000")
        .text(p.title)
        .call(squeeze);
});
</script>
</body>
</html>
